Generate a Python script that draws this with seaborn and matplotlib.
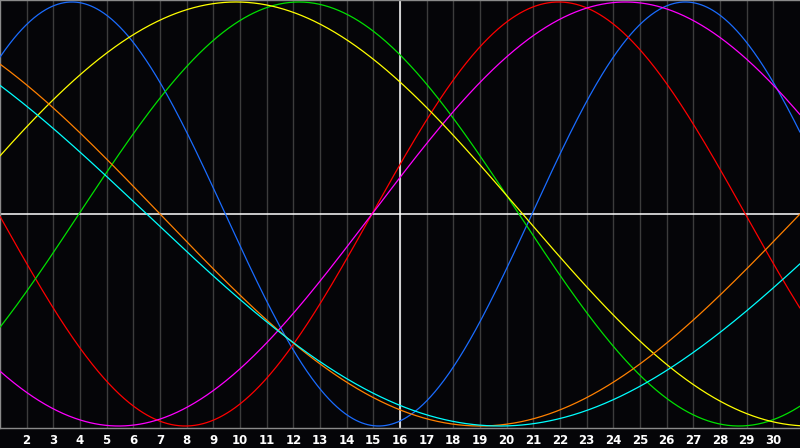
""" Biorhythm chart: seven cycles over one month """

import numpy as np
import pandas as pd
import seaborn as sns
import matplotlib.pyplot as plt

# Data
cycles = ["Physical", "Emotional", "Intellectual", "Intuitive", "Aesthetic", "Awareness", "Spiritual"]
periods = [23, 28, 33, 38, 43, 48, 53]
# day of month where each cycle crosses zero going up
zero_up_day = [20.95, 14.95, 3.96, 14.95, -0.9, 31.0, 33.0]
colors = ["#1a6cff", "#ff0000", "#00e000", "#ff00ff", "#ffff00", "#ff8000", "#00ffff"]
days = list(range(1, 32))
today = 16
tick_days = list(range(2, 31))


def plot():
    """ Draws the cycles as lines """
    t = np.linspace(days[0], days[-1], 801)
    rows = []
    for name, p, z in zip(cycles, periods, zero_up_day):
        v = np.sin(2 * np.pi * (t - z) / p)
        rows.append(pd.DataFrame({"Day": t, "Value": v, "Cycle": name}))
    df = pd.concat(rows, ignore_index=True)

    fig = plt.figure(figsize=(8, 4.48), dpi=100, facecolor="#050508")
    ax = fig.add_axes([0, 20 / 448, 1, 428 / 448])
    ax.set_facecolor("#050508")

    # grid and reference lines
    for d in tick_days:
        ax.axvline(d, color="#3c3c3c", lw=1, zorder=1)
    ax.axhline(0, color="white", lw=1.1, zorder=2)
    ax.axvline(today, color="white", lw=1.1, zorder=2)

    sns.lineplot(data=df, x="Day", y="Value", hue="Cycle", hue_order=cycles,
                 palette=dict(zip(cycles, colors)), lw=0.9, legend=False,
                 ax=ax, zorder=3, sort=False, estimator=None)

    lim = 214 / 212
    ax.set_xlim(days[0], days[-1])
    ax.set_ylim(-lim, lim)
    ax.set_xlabel("")
    ax.set_ylabel("")
    ax.set_yticks([])
    ax.set_xticks(tick_days)
    ax.set_xticklabels([str(d) for d in tick_days], color="white",
                       fontsize=8.5, fontweight="bold")
    ax.tick_params(axis="x", length=0, pad=4)
    for side in ["top", "left", "bottom"]:
        ax.spines[side].set_color("#8a8a8a")
        ax.spines[side].set_linewidth(1.0)
    ax.spines["right"].set_visible(False)

    fig.savefig("out.png", dpi=100, facecolor=fig.get_facecolor())


if __name__ == "__main__":
    sns.set_style("dark")
    plot()
